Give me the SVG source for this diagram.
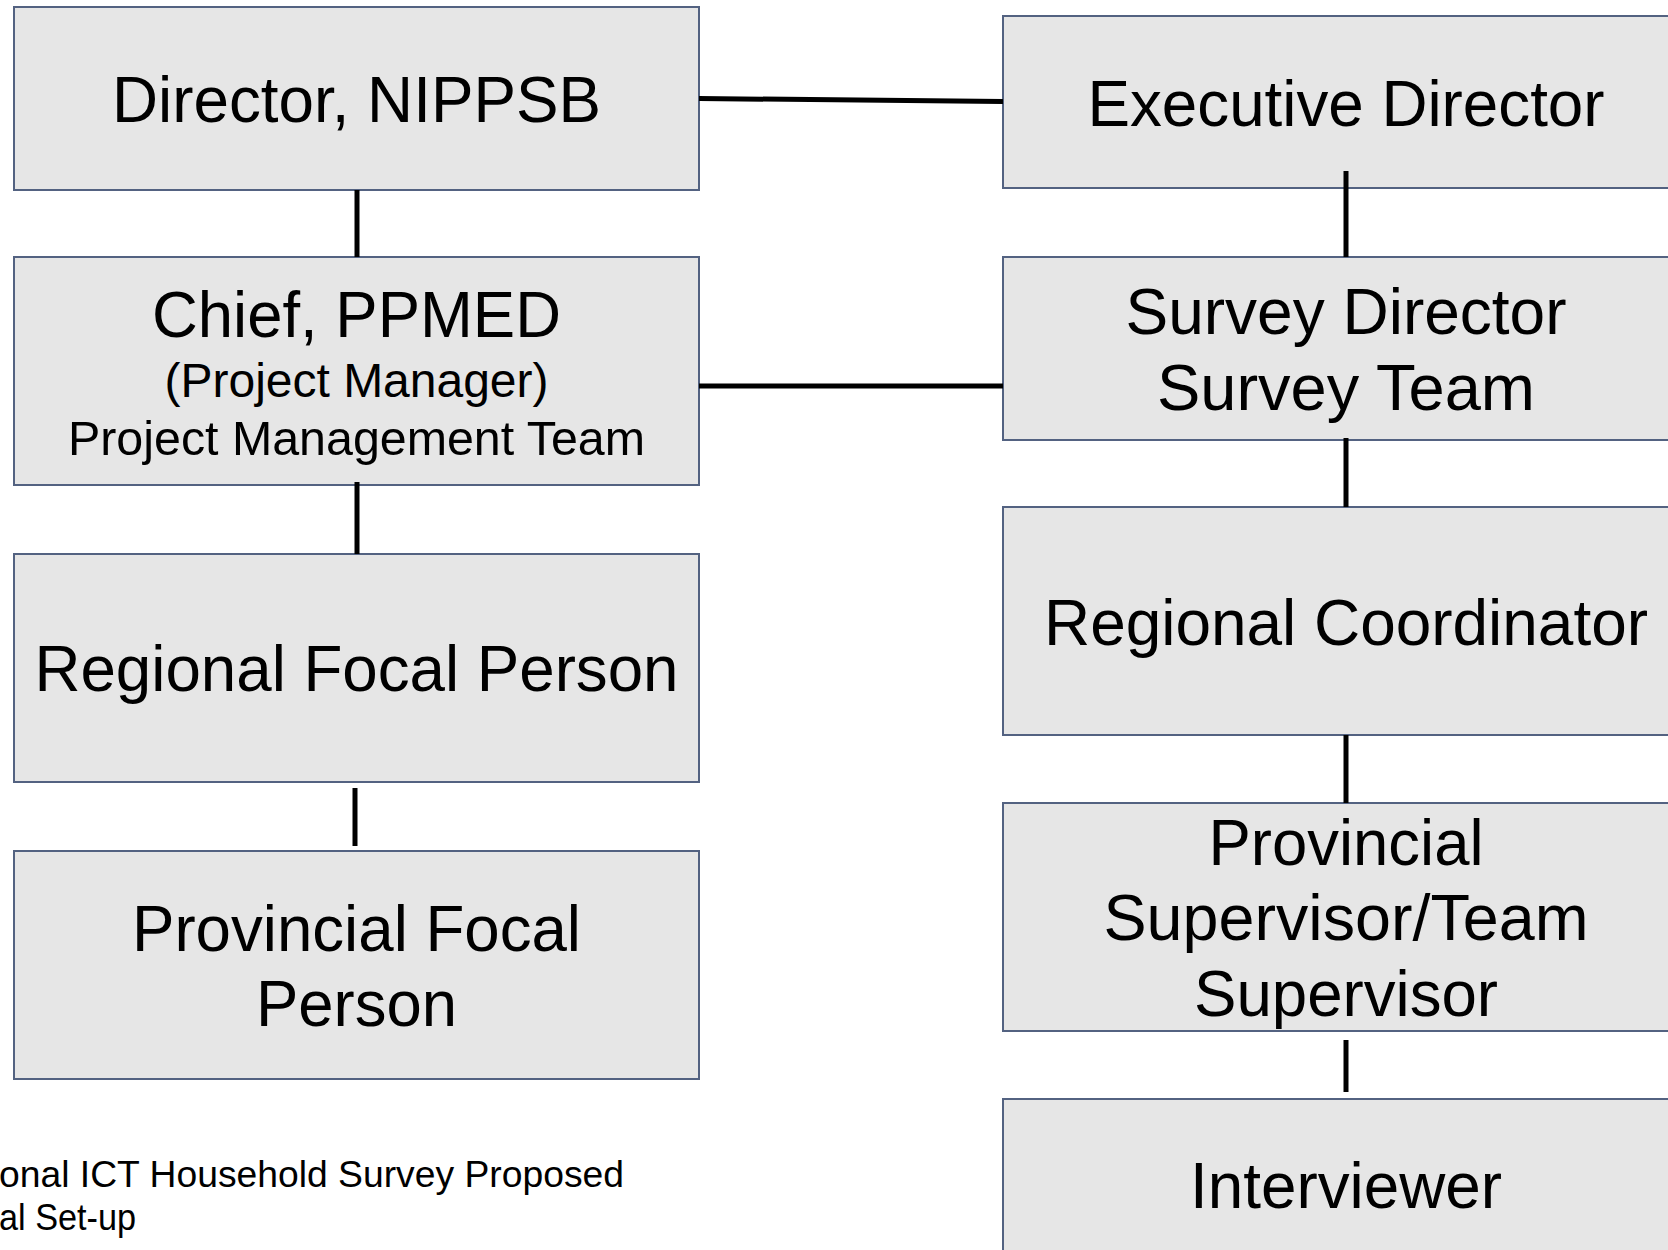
<svg xmlns="http://www.w3.org/2000/svg" width="1668" height="1250" viewBox="0 0 1668 1250">
<style>
.box{fill:#e6e6e6;stroke:#536281;stroke-width:2}
.t{font-family:"Liberation Sans",Arial,sans-serif;fill:#000;text-anchor:middle}
.big{font-size:64px}
.mid{font-size:48px}
.cap{font-family:"Liberation Sans",Arial,sans-serif;font-size:36px;fill:#000}
.c{stroke:#000;stroke-width:5;fill:none}
</style>
<rect width="1668" height="1250" fill="#fff"/>
<g id="director-nippsb">
<rect class="box" x="14" y="7" width="685" height="183"/>
<text class="t big" x="356.5" y="122" textLength="489" lengthAdjust="spacingAndGlyphs">Director, NIPPSB</text>
</g>
<g id="chief-ppmed">
<rect class="box" x="14" y="257" width="685" height="228"/>
<text class="t big" x="356.5" y="337" textLength="409" lengthAdjust="spacingAndGlyphs">Chief, PPMED</text>
<text class="t mid" x="356.5" y="397" textLength="384" lengthAdjust="spacingAndGlyphs">(Project Manager)</text>
<text class="t mid" x="356.5" y="455" textLength="577" lengthAdjust="spacingAndGlyphs">Project Management Team</text>
</g>
<g id="regional-focal-person">
<rect class="box" x="14" y="554" width="685" height="228"/>
<text class="t big" x="356.5" y="691" textLength="644" lengthAdjust="spacingAndGlyphs">Regional Focal Person</text>
</g>
<g id="provincial-focal-person">
<rect class="box" x="14" y="851" width="685" height="228"/>
<text class="t big" x="356.5" y="951" textLength="449" lengthAdjust="spacingAndGlyphs">Provincial Focal</text>
<text class="t big" x="356.5" y="1026" textLength="201" lengthAdjust="spacingAndGlyphs">Person</text>
</g>
<g id="executive-director">
<rect class="box" x="1003" y="16" width="700" height="172"/>
<text class="t big" x="1346" y="126" textLength="517" lengthAdjust="spacingAndGlyphs">Executive Director</text>
</g>
<g id="survey-director">
<rect class="box" x="1003" y="257" width="700" height="183"/>
<text class="t big" x="1346" y="334" textLength="441" lengthAdjust="spacingAndGlyphs">Survey Director</text>
<text class="t big" x="1346" y="410" textLength="378" lengthAdjust="spacingAndGlyphs">Survey Team</text>
</g>
<g id="regional-coordinator">
<rect class="box" x="1003" y="507" width="700" height="228"/>
<text class="t big" x="1346" y="645" textLength="604" lengthAdjust="spacingAndGlyphs">Regional Coordinator</text>
</g>
<g id="provincial-supervisor">
<rect class="box" x="1003" y="803" width="700" height="228"/>
<text class="t big" x="1346" y="865" textLength="275" lengthAdjust="spacingAndGlyphs">Provincial</text>
<text class="t big" x="1346" y="940" textLength="485" lengthAdjust="spacingAndGlyphs">Supervisor/Team</text>
<text class="t big" x="1346" y="1016" textLength="304" lengthAdjust="spacingAndGlyphs">Supervisor</text>
</g>
<g id="interviewer">
<rect class="box" x="1003" y="1099" width="700" height="200"/>
<text class="t big" x="1346" y="1208" textLength="312" lengthAdjust="spacingAndGlyphs">Interviewer</text>
</g>
<g id="caption">
<text class="cap" x="-1" y="1187" textLength="625" lengthAdjust="spacingAndGlyphs">onal ICT Household Survey Proposed</text>
<text class="cap" x="-1" y="1230" textLength="137" lengthAdjust="spacingAndGlyphs">al Set-up</text>
</g>
<g id="connectors">
<line class="c" x1="699" y1="98.5" x2="1003" y2="101.5"/>
<line class="c" x1="699" y1="386" x2="1003" y2="386"/>
<line class="c" x1="357" y1="190" x2="357" y2="257"/>
<line class="c" x1="357" y1="482" x2="357" y2="554"/>
<line class="c" x1="355" y1="788" x2="355" y2="846"/>
<line class="c" x1="1346" y1="171" x2="1346" y2="257"/>
<line class="c" x1="1346" y1="438" x2="1346" y2="507"/>
<line class="c" x1="1346" y1="735" x2="1346" y2="803"/>
<line class="c" x1="1346" y1="1040" x2="1346" y2="1092"/>
</g>
</svg>
